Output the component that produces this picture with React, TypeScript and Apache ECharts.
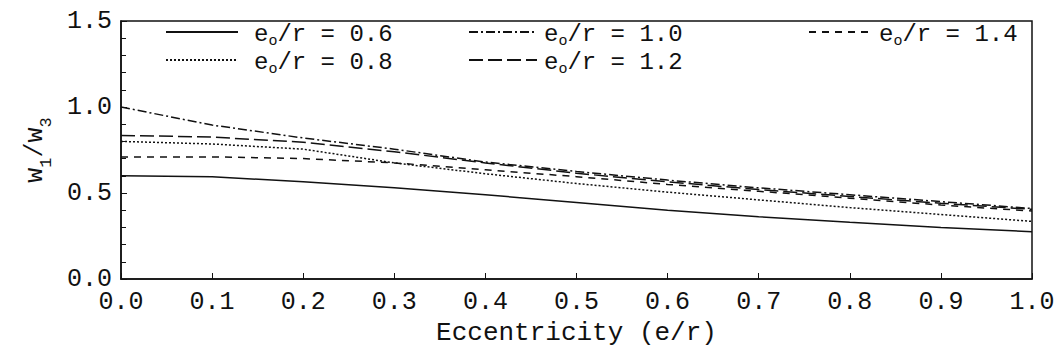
import React, { useEffect, useRef } from "react";
import * as echarts from "echarts";

const eccentricity = [0, 0.1, 0.2, 0.3, 0.4, 0.5, 0.6, 0.7, 0.8, 0.9, 1.0];
const ratio06 = [0.6, 0.595, 0.565, 0.53, 0.49, 0.445, 0.4, 0.362, 0.33, 0.3, 0.275];
const ratio08 = [0.8, 0.785, 0.755, 0.675, 0.612, 0.555, 0.505, 0.46, 0.415, 0.375, 0.335];
const ratio10 = [1.0, 0.895, 0.82, 0.755, 0.68, 0.625, 0.575, 0.53, 0.49, 0.45, 0.41];
const ratio12 = [0.835, 0.825, 0.795, 0.74, 0.675, 0.615, 0.565, 0.52, 0.48, 0.44, 0.405];
const ratio14 = [0.71, 0.71, 0.7, 0.675, 0.635, 0.595, 0.55, 0.51, 0.47, 0.43, 0.395];
const ratioLabels = ["0.6", "0.8", "1.0", "1.2", "1.4"];

const FONT = "'Liberation Mono', 'Courier New', monospace";
const INK = "#111";

export default function App() {
  const ref = useRef<HTMLDivElement>(null);
  useEffect(() => {
    if (!ref.current) return;
    const chart = echarts.init(ref.current, undefined, { renderer: "svg" });
    const allValues = [ratio06, ratio08, ratio10, ratio12, ratio14];
    const dashes: any[] = ["solid", [2, 2], [9, 3, 2, 3], [14, 5], [7, 6]];
    const names = ratioLabels.map((l) => "eo/r = " + l);
    const series = allValues.map((vals, i) => ({
      name: names[i],
      type: "line",
      symbol: "none",
      showSymbol: false,
      data: eccentricity.map((x, j) => [x, vals[j]]),
      lineStyle: { color: INK, width: 1.5, type: dashes[i] },
      itemStyle: { color: INK },
    }));
    const nameRich = {
      m: { fontFamily: FONT, fontSize: 25, color: INK, lineHeight: 26, verticalAlign: "top" },
      s: { fontFamily: FONT, fontSize: 17, color: INK, lineHeight: 14, padding: [15, 0, 0, 0], verticalAlign: "top" },
    };
    const legendRich = {
      m: { fontFamily: FONT, fontSize: 24, color: INK, lineHeight: 20, verticalAlign: "top" },
      s: { fontFamily: FONT, fontSize: 15, color: INK, lineHeight: 8, padding: [12, 0, 0, 0], verticalAlign: "top" },
    };
    const legendPos = [
      { left: 165, top: 22, w: 72, pad: 11 },
      { left: 165, top: 50, w: 72, pad: 11 },
      { left: 468, top: 22, w: 68, pad: 2 },
      { left: 468, top: 50, w: 68, pad: 2 },
      { left: 808, top: 22, w: 60, pad: 5 },
    ];
    const legend = legendPos.map((p, i) => ({
      data: [names[i]],
      left: p.left,
      top: p.top,
      padding: 0,
      itemWidth: p.w,
      itemHeight: 14,
      orient: "vertical",
      selectedMode: false,
      itemStyle: { color: "rgba(0,0,0,0)", borderWidth: 0, opacity: 0 },
      formatter: () => "{m|e}{s|o}{m|/r = " + ratioLabels[i] + "}",
      textStyle: { padding: [0, 0, 0, p.pad], rich: legendRich },
    }));
    chart.setOption({
      animation: false,
      backgroundColor: "#fff",
      grid: {
        left: 121,
        right: 30,
        top: 21,
        bottom: 83,
        show: true,
        borderColor: INK,
        borderWidth: 1.5,
      },
      legend,
      xAxis: {
        type: "value",
        min: 0,
        max: 1,
        interval: 0.1,
        name: "Eccentricity (e/r)",
        nameLocation: "middle",
        nameGap: 36,
        nameTextStyle: { fontFamily: FONT, fontSize: 26, color: INK },
        axisLine: { lineStyle: { color: INK, width: 1.5 } },
        axisTick: { inside: true, length: 6, lineStyle: { color: INK } },
        axisLabel: {
          fontFamily: FONT,
          fontSize: 25,
          color: INK,
          margin: 11,
          formatter: (v: number) => v.toFixed(1),
        },
        splitLine: { show: false },
      },
      yAxis: {
        type: "value",
        min: 0,
        max: 1.5,
        interval: 0.5,
        name: "{m|w}{s|1}{m|/w}{s|3}",
        nameLocation: "middle",
        nameRotate: 90,
        nameGap: 72,
        nameTextStyle: { rich: nameRich },
        axisLine: { lineStyle: { color: INK, width: 1.5 } },
        axisTick: { inside: true, length: 6, lineStyle: { color: INK } },
        minorTick: { show: true, splitNumber: 5, length: 5, lineStyle: { color: INK } },
        axisLabel: {
          fontFamily: FONT,
          fontSize: 25,
          color: INK,
          margin: 9,
          formatter: (v: number) => v.toFixed(1),
        },
        splitLine: { show: false },
        minorSplitLine: { show: false },
      },
      series,
    });
    return () => chart.dispose();
  }, []);
  return (
    <div
      ref={ref}
      style={{ position: "fixed", left: 0, top: 0, width: 1062, height: 362 }}
    />
  );
}
